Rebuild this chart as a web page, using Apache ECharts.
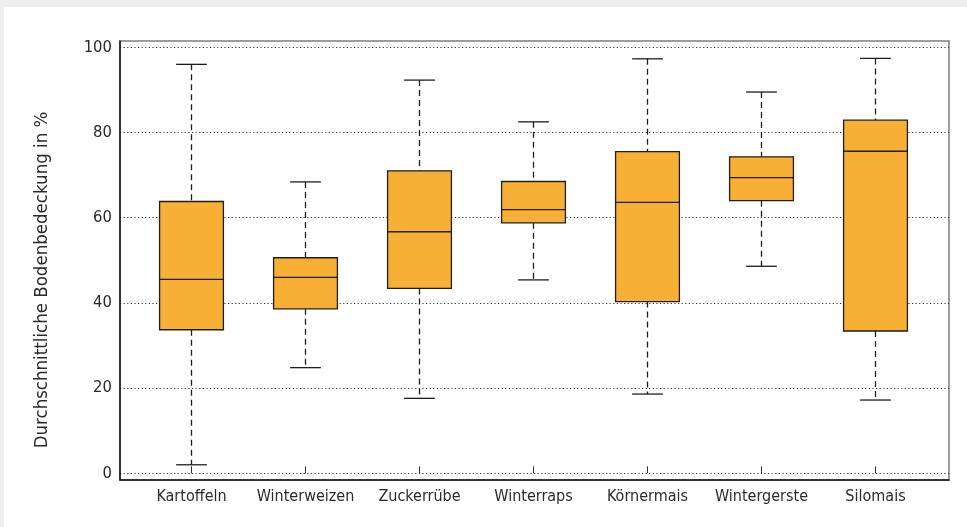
<!DOCTYPE html>
<html>
<head>
<meta charset="utf-8">
<script src="https://cdn.jsdelivr.net/npm/echarts@6/dist/echarts.min.js"></script>
<style>
  html, body { margin: 0; padding: 0; background: #eeeeee; overflow: hidden; }
  #chart { position: absolute; left: 4px; top: 7px; width: 963px; height: 520px; background: #ffffff; }
</style>
</head>
<body>
<div id="chart"></div>
<script>
// Crop types and their box statistics (soil cover in %)
const categories = ['Kartoffeln', 'Winterweizen', 'Zuckerrübe', 'Winterraps', 'Körnermais', 'Wintergerste', 'Silomais'];
const whiskerLow  = [2.0, 24.8, 17.6, 45.4, 18.6, 48.6, 17.2];
const quartile1   = [33.7, 38.6, 43.4, 58.8, 40.3, 64.0, 33.4];
const median      = [45.5, 46.0, 56.7, 61.9, 63.6, 69.4, 75.6];
const quartile3   = [63.8, 50.6, 71.0, 68.5, 75.5, 74.3, 82.9];
const whiskerHigh = [96.0, 68.4, 92.3, 82.5, 97.3, 89.5, 97.4];
const yTicks = [0, 20, 40, 60, 80, 100];

const FONT = '"DejaVu Sans Condensed", "Liberation Sans", sans-serif';
const INK = '#1e1e1e';
const FILL = '#f8af35';

const boxData = categories.map((c, i) => [i, whiskerLow[i], quartile1[i], median[i], quartile3[i], whiskerHigh[i]]);

function renderBox(params, api) {
  const i = api.value(0);
  const lo = api.coord([i, api.value(1)]);
  const q1 = api.coord([i, api.value(2)]);
  const md = api.coord([i, api.value(3)]);
  const q3 = api.coord([i, api.value(4)]);
  const hi = api.coord([i, api.value(5)]);
  const band = api.size([1, 0])[0];
  const bw = band * 0.56;
  const cw = band * 0.27;
  const x = lo[0];
  const dash = { stroke: INK, lineWidth: 1.3, lineDash: [6, 4] };
  const solid = { stroke: INK, lineWidth: 1.3 };
  return {
    type: 'group',
    children: [
      { type: 'line', shape: { x1: x, y1: hi[1], x2: x, y2: q3[1] }, style: dash },
      { type: 'line', shape: { x1: x, y1: q1[1], x2: x, y2: lo[1] }, style: dash },
      { type: 'line', shape: { x1: x - cw / 2, y1: hi[1], x2: x + cw / 2, y2: hi[1] }, style: solid },
      { type: 'line', shape: { x1: x - cw / 2, y1: lo[1], x2: x + cw / 2, y2: lo[1] }, style: solid },
      { type: 'rect', shape: { x: x - bw / 2, y: q3[1], width: bw, height: q1[1] - q3[1] },
        style: { fill: FILL, stroke: INK, lineWidth: 1.3 } },
      { type: 'line', shape: { x1: x - bw / 2, y1: md[1], x2: x + bw / 2, y2: md[1] }, style: solid }
    ]
  };
}

const chart = echarts.init(document.getElementById('chart'), null, { renderer: 'canvas' });

chart.setOption({
  animation: false,
  backgroundColor: 'transparent',
  textStyle: { fontFamily: FONT },
  graphic: [{
    type: 'text',
    x: 38, y: 273,
    rotation: Math.PI / 2,
    style: {
      text: 'Durchschnittliche Bodenbedeckung in %',
      fontFamily: FONT, fontSize: 18.5, fill: '#2a2a2a',
      align: 'center', verticalAlign: 'middle'
    }
  }],
  grid: [
    // outer frame
    { left: 116, right: 18, top: 34, bottom: 47, show: true, borderColor: '#7d7d7d', borderWidth: 1.5, backgroundColor: 'transparent' },
    // value scale with gridlines
    { left: 116, right: 18, top: 40.3, bottom: 53.7 },
    // box positions
    { left: 130.5, right: 34.5, top: 40.3, bottom: 53.7 }
  ],
  xAxis: [
    { gridIndex: 0, type: 'value', min: 0, max: 1, axisLine: { show: true, lineStyle: { color: '#111', width: 1.5 } },
      axisTick: { show: false }, axisLabel: { show: false }, splitLine: { show: false } },
    { gridIndex: 1, type: 'value', min: 0, max: 1, show: false },
    { gridIndex: 2, type: 'category', data: categories, offset: 6.7,
      axisLine: { show: false },
      axisTick: { show: true, inside: true, length: 7, alignWithLabel: true, lineStyle: { color: '#333', width: 1 } },
      axisLabel: { interval: 0, margin: 9, fontSize: 16, color: '#2a2a2a', fontFamily: FONT },
      splitLine: { show: false } }
  ],
  yAxis: [
    { gridIndex: 0, type: 'value', min: 0, max: 1, axisLine: { show: true, lineStyle: { color: '#111', width: 1.5 } },
      axisTick: { show: false }, axisLabel: { show: false }, splitLine: { show: false } },
    { gridIndex: 1, type: 'value', min: yTicks[0], max: yTicks[yTicks.length - 1], interval: 20,
      axisLine: { show: false }, axisTick: { show: false },
      axisLabel: { margin: 8, fontSize: 16.5, color: '#2a2a2a', fontFamily: FONT },
      splitLine: { show: true, lineStyle: { color: '#333', width: 1, type: [1.2, 2.4] } } },
    { gridIndex: 2, type: 'value', min: yTicks[0], max: yTicks[yTicks.length - 1], show: false }
  ],
  series: [{
    type: 'custom',
    xAxisIndex: 2,
    yAxisIndex: 2,
    renderItem: renderBox,
    encode: { x: 0, y: [1, 2, 3, 4, 5] },
    data: boxData,
    z: 5
  }]
});
</script>
</body>
</html>
